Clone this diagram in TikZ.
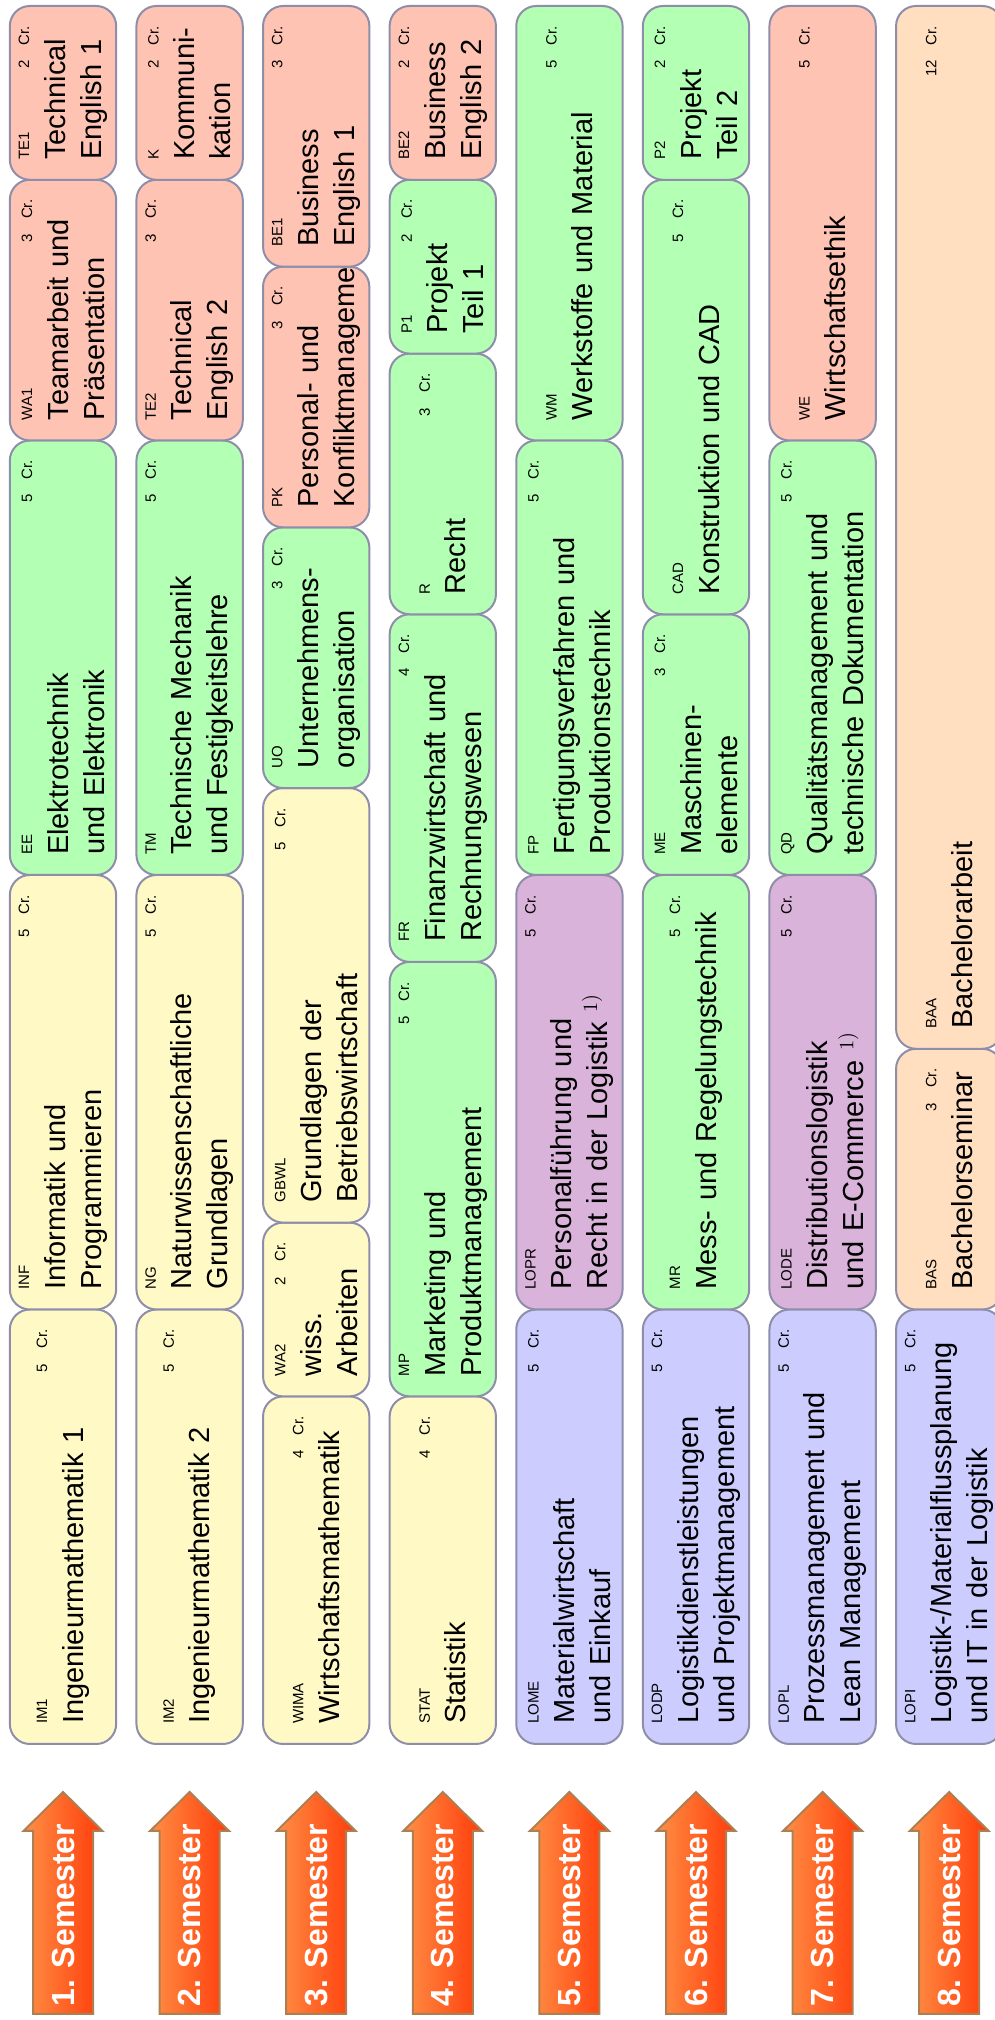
\documentclass[tikz,border=0pt]{standalone}
\usepackage{fontspec}
\setsansfont{Liberation Sans}
\definecolor{cyel}{HTML}{FFF9C6}
\definecolor{cgrn}{HTML}{B3FFB3}
\definecolor{csal}{HTML}{FFC3B3}
\definecolor{clav}{HTML}{CCCCFF}
\definecolor{cpur}{HTML}{D9B3D9}
\definecolor{cpch}{HTML}{FFDFC0}
\definecolor{frame}{HTML}{8E8EAA}
\definecolor{arrL}{HTML}{FF8F45}
\definecolor{arrR}{HTML}{FF3C0A}
\definecolor{arrline}{HTML}{AE7F52}
\newcommand\codefont{\fontsize{7.5}{9}\selectfont}
\newcommand\fn{\textsuperscript{\rmfamily 1)}}
\hyphenpenalty=10000
\exhyphenpenalty=10000

\begin{document}
\begin{tikzpicture}[x=0.5pt,y=0.5pt,
 font=\sffamily\fontsize{14.5}{18}\selectfont,
 modbox/.style={draw=frame,line width=1pt,rounded corners=10pt,rotate=90,
  inner xsep=10pt,inner ysep=0pt,minimum height=53.15pt,align=left},
 semtext/.style={rotate=90,anchor=west,inner sep=0pt,text=white,
  font=\sffamily\bfseries\fontsize{16}{19}\selectfont},
 arr/.style={draw=arrline,line width=1pt,left color=arrL,right color=arrR}]
\path[use as bounding box] (0,0) rectangle (995,2020);
\clip (0,0) rectangle (995,2020);
% semester arrows
\foreach \i in {1,...,8}{
 \pgfmathsetmacro{\cx}{63+126.6*(\i-1)}
 \path[arr] (\cx-30,6) -- (\cx+30,6) -- (\cx+30,189) -- (\cx+39.5,189)
  -- (\cx,228) -- (\cx-39.5,189) -- (\cx-30,189) -- cycle;
 \node[semtext] (sem\i) at (\cx,13) {\i. Semester};
}
% modules: column / start / credits / code / colour / name
\foreach \col/\s/\nc/\code/\fcol/\modname in {
 1/0/5/IM1/cyel/{Ingenieurmathematik 1},
 1/5/5/INF/cyel/{Informatik und\\Programmieren},
 1/10/5/EE/cgrn/{Elektrotechnik\\und Elektronik},
 1/15/3/WA1/csal/{Teamarbeit und\\Präsentation},
 1/18/2/TE1/csal/{Technical\\English 1},
 2/0/5/IM2/cyel/{Ingenieurmathematik 2},
 2/5/5/NG/cyel/{Naturwissenschaftliche\\Grundlagen},
 2/10/5/TM/cgrn/{Technische Mechanik\\und Festigkeitslehre},
 2/15/3/TE2/csal/{Technical\\English 2},
 2/18/2/K/csal/{Kommuni-\\kation},
 3/0/4/WIMA/cyel/{Wirtschaftsmathematik},
 3/4/2/WA2/cyel/{wiss.\\Arbeiten},
 3/6/5/GBWL/cyel/{Grundlagen der\\Betriebswirtschaft},
 3/11/3/UO/cgrn/{Unternehmens-\\organisation},
 3/14/3/PK/csal/{Personal- und\\Konfliktmanagement},
 3/17/3/BE1/csal/{Business\\English 1},
 4/0/4/STAT/cyel/{Statistik},
 4/4/5/MP/cgrn/{Marketing und\\Produktmanagement},
 4/9/4/FR/cgrn/{Finanzwirtschaft und\\Rechnungswesen},
 4/13/3/R/cgrn/{Recht},
 4/16/2/P1/cgrn/{Projekt\\Teil 1},
 4/18/2/BE2/csal/{Business\\English 2},
 5/0/5/LOME/clav/{Materialwirtschaft\\und Einkauf},
 5/5/5/LOPR/cpur/{Personalführung und\\Recht in der Logistik \fn},
 5/10/5/FP/cgrn/{Fertigungsverfahren und\\Produktionstechnik},
 5/15/5/WM/cgrn/{Werkstoffe und Material},
 6/0/5/LODP/clav/{Logistikdienstleistungen\\und Projektmanagement},
 6/5/5/MR/cgrn/{Mess- und Regelungstechnik},
 6/10/3/ME/cgrn/{Maschinen-\\elemente},
 6/13/5/CAD/cgrn/{Konstruktion und CAD},
 6/18/2/P2/cgrn/{Projekt\\Teil 2},
 7/0/5/LOPL/clav/{Prozessmanagement und\\Lean Management},
 7/5/5/LODE/cpur/{Distributionslogistik\\und E-Commerce \fn},
 7/10/5/QD/cgrn/{Qualitätsmanagement und\\technische Dokumentation},
 7/15/5/WE/csal/{Wirtschaftsethik},
 8/0/5/LOPI/clav/{Logistik-/Materialflussplanung\\und IT in der Logistik},
 8/5/3/BAS/cpch/{Bachelorseminar},
 8/8/12/BAA/cpch/{Bachelorarbeit}}{
 \pgfmathsetmacro{\cx}{63+126.6*(\col-1)}
 \pgfmathsetmacro{\cy}{276+(\s+\nc/2)*86.9}
 \pgfmathsetmacro{\len}{\nc*43.45}
 \pgfmathsetmacro{\tw}{\nc*43.45-20}
 \node[modbox,fill=\fcol,minimum width=\len pt,text width=\tw pt] (m\code) at (\cx,\cy)
  {{\codefont\code\hfill\nc\quad Cr.}\\\modname};
}
\end{tikzpicture}
\end{document}
